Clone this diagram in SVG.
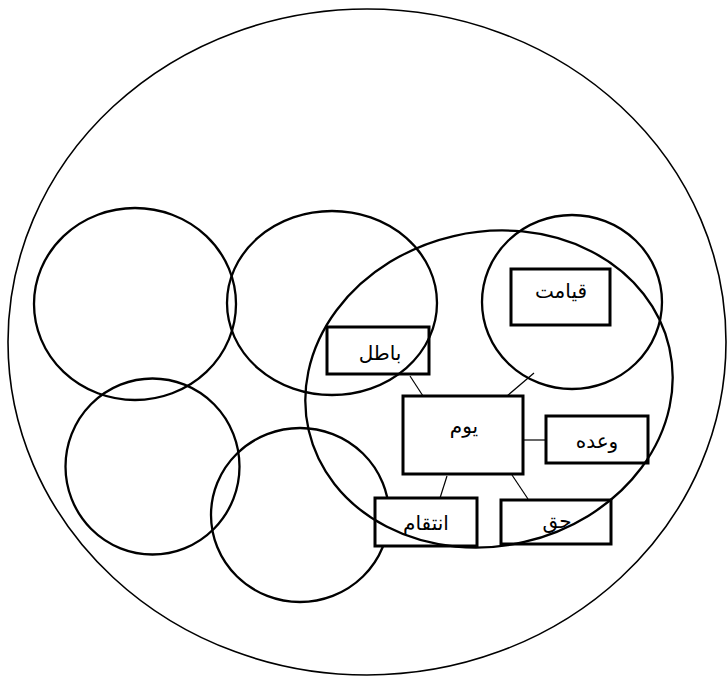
<svg xmlns="http://www.w3.org/2000/svg" width="727" height="676" viewBox="0 0 727 676">
<style>
.ring{fill:none;stroke:#000;stroke-width:2.3}
.outer{fill:none;stroke:#000;stroke-width:1.6}
.box{fill:#fff;stroke:#000;stroke-width:3}
.lbl{font-family:"Liberation Serif","DejaVu Serif","DejaVu Sans",serif;font-size:20px;fill:#000;text-anchor:middle}
.conn line{stroke:#000;stroke-width:1.2}
</style>
<rect width="727" height="676" fill="#fff"/>
<g id="outer-ellipse"><ellipse class="outer" cx="367" cy="342" rx="359" ry="333"/></g>
<g id="circle-4"><ellipse class="ring" cx="300" cy="515" rx="89" ry="87"/></g>
<g id="connectors" class="conn">
<line x1="410" y1="376" x2="423" y2="396"/>
<line x1="507" y1="396" x2="534" y2="373"/>
<line x1="523" y1="440" x2="547" y2="440"/>
<line x1="447" y1="476" x2="440" y2="498"/>
<line x1="512" y1="475" x2="528" y2="499"/>
</g>
<g id="node-batel"><rect class="box" x="327" y="327" width="102" height="47"/><text class="lbl" x="380" y="360">باطل</text></g>
<g id="node-qiyamat"><rect class="box" x="511" y="269" width="99" height="56"/><text class="lbl" x="561" y="298">قيامت</text></g>
<g id="node-yawm"><rect class="box" x="403" y="396" width="120" height="78"/><text class="lbl" x="464" y="433">يوم</text></g>
<g id="node-waada"><rect class="box" x="546" y="416" width="102" height="47"/><text class="lbl" x="597" y="448">وعده</text></g>
<g id="node-enteqam"><rect class="box" x="375" y="498" width="102" height="48"/><text class="lbl" x="426" y="530">انتقام</text></g>
<g id="node-haq"><rect class="box" x="501" y="500" width="110" height="44"/><text class="lbl" x="557" y="528">حق</text></g>
<g id="circle-1"><ellipse class="ring" cx="135" cy="304" rx="101" ry="96"/></g>
<g id="circle-2"><ellipse class="ring" cx="332" cy="303" rx="105" ry="92"/></g>
<g id="circle-3"><ellipse class="ring" cx="152.5" cy="466.5" rx="87" ry="88"/></g>
<g id="circle-5"><ellipse class="ring" cx="572" cy="302" rx="90" ry="87"/></g>
<g id="tilted-ellipse"><ellipse class="ring" cx="489" cy="389" rx="185" ry="157" transform="rotate(-13 489 389)"/></g>
</svg>
